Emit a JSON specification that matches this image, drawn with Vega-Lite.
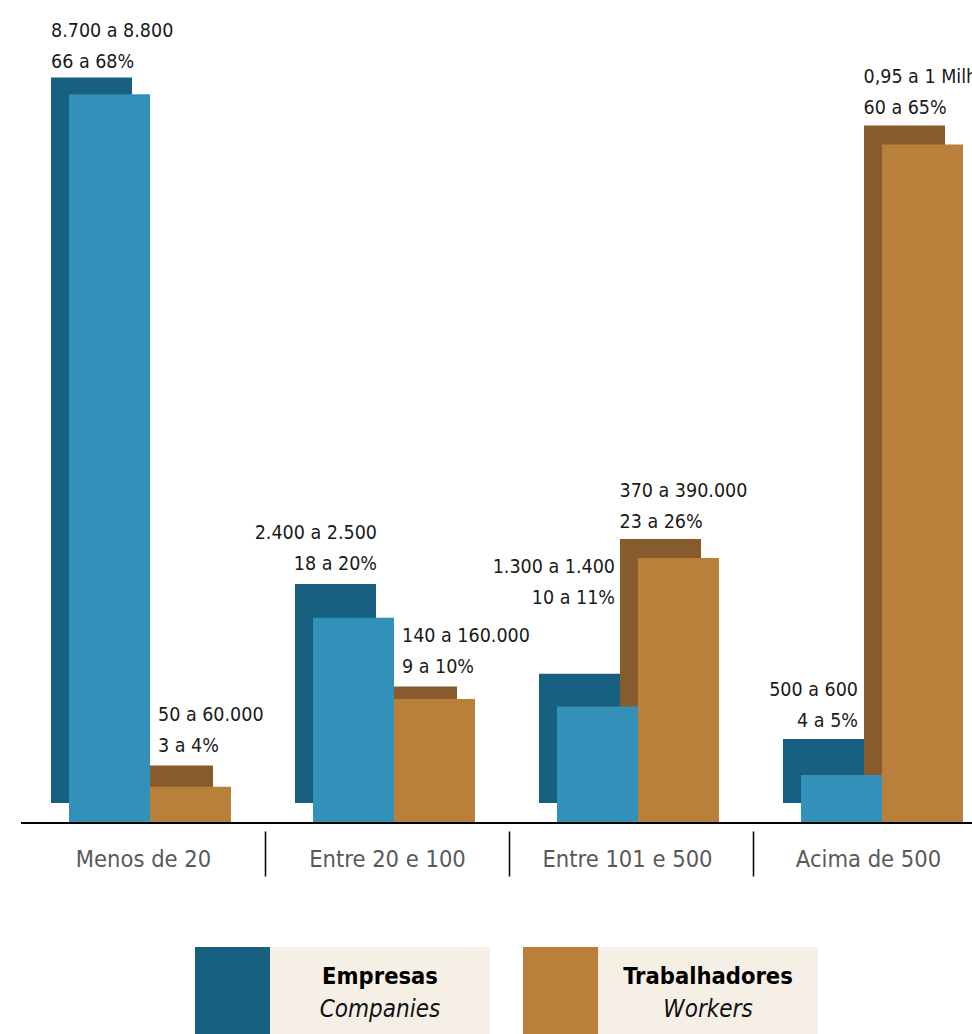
{
  "$schema": "https://vega.github.io/schema/vega-lite/v6.json",
  "width": 951,
  "height": 748,
  "autosize": {"type": "none"},
  "padding": {"left": 21, "top": 75, "right": 0, "bottom": 211},
  "background": "white",
  "config": {"view": {"stroke": null}, "font": "DejaVu Sans Condensed, sans-serif"},
  "datasets": {
    "bars": [
      {"size": "Menos de 20", "series": "Empresas", "back": 67.9, "front": 68.2, "label": "8.700 a 8.800\n66 a 68%"},
      {"size": "Menos de 20", "series": "Trabalhadores", "back": 3.5, "front": 3.4, "label": "50 a 60.000\n3 a 4%"},
      {"size": "Entre 20 e 100", "series": "Empresas", "back": 20.5, "front": 19.2, "label": "2.400 a 2.500\n18 a 20%"},
      {"size": "Entre 20 e 100", "series": "Trabalhadores", "back": 10.9, "front": 11.6, "label": "140 a 160.000\n9 a 10%"},
      {"size": "Entre 101 e 500", "series": "Empresas", "back": 12.1, "front": 10.9, "label": "1.300 a 1.400\n10 a 11%"},
      {"size": "Entre 101 e 500", "series": "Trabalhadores", "back": 24.7, "front": 24.8, "label": "370 a 390.000\n23 a 26%"},
      {"size": "Acima de 500", "series": "Empresas", "back": 6.0, "front": 4.5, "label": "500 a 600\n4 a 5%"},
      {"size": "Acima de 500", "series": "Trabalhadores", "back": 63.4, "front": 63.5, "label": "0,95 a 1 Milhão\n60 a 65%"}
    ],
    "legend": [
      {"series": "Empresas", "title": "Empresas", "subtitle": "Companies"},
      {"series": "Trabalhadores", "title": "Trabalhadores", "subtitle": "Workers"}
    ]
  },
  "layer": [
    {
      "data": {"name": "bars"},
      "layer": [
        {
          "transform": [{"filter": "datum.series === 'Empresas'"}],
          "mark": {"type": "bar", "width": 81, "xOffset": -51.5, "x2Offset": -51.5, "yOffset": -20, "y2Offset": -20, "color": "#17607f"},
          "encoding": {
            "x": {"field": "size", "type": "nominal", "sort": ["Menos de 20", "Entre 20 e 100", "Entre 101 e 500", "Acima de 500"],
              "scale": {"range": [0, 976], "paddingInner": 0, "paddingOuter": 0},
              "axis": {"title": null, "domain": false, "offset": 8, "ticks": true, "tickOffset": 122,
                "labelOffset": {"condition": [{"test": "datum.value === 'Acima de 500'", "value": -129}, {"test": "datum.value === 'Entre 101 e 500'", "value": -126}], "value": -122},
                "tickSize": 45, "tickColor": "#000000", "tickWidth": 1.5,
                "labelFont": "DejaVu Sans Condensed, sans-serif", "labelFontSize": 23.5, "labelColor": "#58595b", "labelLimit": 0,
                "labelPadding": -10, "labelBaseline": "alphabetic", "labelAngle": 0, "grid": false}},
            "y": {"field": "back", "type": "quantitative", "scale": {"domain": [0, 70], "nice": false, "zero": true}, "axis": null}
          }
        },
        {
          "transform": [{"filter": "datum.series === 'Trabalhadores'"}],
          "mark": {"type": "bar", "width": 81, "xOffset": 29.5, "x2Offset": 29.5, "yOffset": -20, "y2Offset": -20, "color": "#885b2c"},
          "encoding": {
            "x": {"field": "size", "type": "nominal", "sort": ["Menos de 20", "Entre 20 e 100", "Entre 101 e 500", "Acima de 500"]},
            "y": {"field": "back", "type": "quantitative"}
          }
        },
        {
          "transform": [{"filter": "datum.series === 'Empresas'"}],
          "mark": {"type": "bar", "width": 81, "xOffset": -33.5, "x2Offset": -33.5, "color": "#3390b9"},
          "encoding": {
            "x": {"field": "size", "type": "nominal", "sort": ["Menos de 20", "Entre 20 e 100", "Entre 101 e 500", "Acima de 500"]},
            "y": {"field": "front", "type": "quantitative"}
          }
        },
        {
          "transform": [{"filter": "datum.series === 'Trabalhadores'"}],
          "mark": {"type": "bar", "width": 81, "xOffset": 47.5, "x2Offset": 47.5, "color": "#b8803a"},
          "encoding": {
            "x": {"field": "size", "type": "nominal", "sort": ["Menos de 20", "Entre 20 e 100", "Entre 101 e 500", "Acima de 500"]},
            "y": {"field": "front", "type": "quantitative"}
          }
        },
        {
          "transform": [{"filter": "datum.size === 'Menos de 20' && datum.series === 'Empresas'"}],
          "mark": {"type": "text", "align": "left", "baseline": "alphabetic", "dx": -92, "dy": -60, "fontSize": 19.5, "lineHeight": 31, "lineBreak": "\n", "color": "#1a1a1a"},
          "encoding": {
            "x": {"field": "size", "type": "nominal", "sort": ["Menos de 20", "Entre 20 e 100", "Entre 101 e 500", "Acima de 500"]},
            "y": {"field": "back", "type": "quantitative"},
            "text": {"field": "label", "type": "nominal"}
          }
        },
        {
          "transform": [{"filter": "(datum.size === 'Entre 101 e 500' || datum.size === 'Acima de 500') && datum.series === 'Trabalhadores'"}],
          "mark": {"type": "text", "align": "left", "baseline": "alphabetic", "dx": -11.5, "dy": -62.5, "fontSize": 19.5, "lineHeight": 31, "lineBreak": "\n", "color": "#1a1a1a"},
          "encoding": {
            "x": {"field": "size", "type": "nominal", "sort": ["Menos de 20", "Entre 20 e 100", "Entre 101 e 500", "Acima de 500"]},
            "y": {"field": "back", "type": "quantitative"},
            "text": {"field": "label", "type": "nominal"}
          }
        },
        {
          "transform": [{"filter": "(datum.size === 'Menos de 20' || datum.size === 'Entre 20 e 100') && datum.series === 'Trabalhadores'"}],
          "mark": {"type": "text", "align": "left", "baseline": "alphabetic", "dx": 15, "dy": -64.5, "fontSize": 19.5, "lineHeight": 31, "lineBreak": "\n", "color": "#1a1a1a"},
          "encoding": {
            "x": {"field": "size", "type": "nominal", "sort": ["Menos de 20", "Entre 20 e 100", "Entre 101 e 500", "Acima de 500"]},
            "y": {"field": "back", "type": "quantitative"},
            "text": {"field": "label", "type": "nominal"}
          }
        },
        {
          "transform": [{"filter": "datum.size === 'Entre 20 e 100' && datum.series === 'Empresas'"}],
          "mark": {"type": "text", "align": "right", "baseline": "alphabetic", "dx": -10, "dy": -65, "fontSize": 19.5, "lineHeight": 31, "lineBreak": "\n", "color": "#1a1a1a"},
          "encoding": {
            "x": {"field": "size", "type": "nominal", "sort": ["Menos de 20", "Entre 20 e 100", "Entre 101 e 500", "Acima de 500"]},
            "y": {"field": "back", "type": "quantitative"},
            "text": {"field": "label", "type": "nominal"}
          }
        },
        {
          "transform": [{"filter": "datum.size === 'Entre 101 e 500' && datum.series === 'Empresas'"}],
          "mark": {"type": "text", "align": "right", "baseline": "alphabetic", "dx": -16, "dy": -121, "fontSize": 19.5, "lineHeight": 31, "lineBreak": "\n", "color": "#1a1a1a"},
          "encoding": {
            "x": {"field": "size", "type": "nominal", "sort": ["Menos de 20", "Entre 20 e 100", "Entre 101 e 500", "Acima de 500"]},
            "y": {"field": "back", "type": "quantitative"},
            "text": {"field": "label", "type": "nominal"}
          }
        },
        {
          "transform": [{"filter": "datum.size === 'Acima de 500' && datum.series === 'Empresas'"}],
          "mark": {"type": "text", "align": "right", "baseline": "alphabetic", "dx": -17, "dy": -63, "fontSize": 19.5, "lineHeight": 31, "lineBreak": "\n", "color": "#1a1a1a"},
          "encoding": {
            "x": {"field": "size", "type": "nominal", "sort": ["Menos de 20", "Entre 20 e 100", "Entre 101 e 500", "Acima de 500"]},
            "y": {"field": "back", "type": "quantitative"},
            "text": {"field": "label", "type": "nominal"}
          }
        },
        {
          "mark": {"type": "rule", "color": "#000000", "strokeWidth": 2},
          "encoding": {"y": {"datum": 0}}
        }
      ]
    },
    {
      "data": {"name": "legend"},
      "encoding": {
        "x": {"field": "series", "type": "nominal", "sort": ["Empresas", "Trabalhadores"], "scale": {"range": [174, 797], "paddingInner": 0.1006, "paddingOuter": 0}, "axis": null},
        "y": {"datum": "legenda", "type": "nominal", "scale": {"range": [872, 965], "paddingInner": 0, "paddingOuter": 0}, "axis": null}
      },
      "layer": [
        {"mark": {"type": "rect", "color": "#f6efe6"}},
        {"mark": {"type": "rect", "width": 75, "xOffset": -110},
         "encoding": {"color": {"field": "series", "type": "nominal", "scale": {"domain": ["Empresas", "Trabalhadores"], "range": ["#17607f", "#b8803a"]}, "legend": null}}},
        {"mark": {"type": "text", "fontWeight": "bold", "fontSize": 23.5, "dx": 37.5, "dy": -16.5, "baseline": "middle", "color": "#000000"},
         "encoding": {"text": {"field": "title", "type": "nominal"}}},
        {"mark": {"type": "text", "fontStyle": "italic", "fontSize": 24, "dx": 37.5, "dy": 16.5, "baseline": "middle", "color": "#111111"},
         "encoding": {"text": {"field": "subtitle", "type": "nominal"}}}
      ]
    }
  ],
  "resolve": {"scale": {"x": "independent", "y": "independent", "color": "independent"}}
}
